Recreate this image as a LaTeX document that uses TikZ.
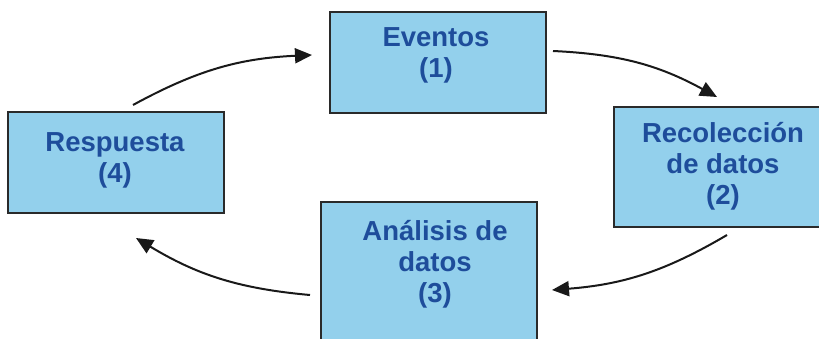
\documentclass[tikz,border=0pt]{standalone}
\usepackage{fontspec}
\setmainfont{Liberation Sans}
\usetikzlibrary{arrows.meta}
\definecolor{boxfill}{HTML}{93D0EC}
\definecolor{boxtext}{HTML}{1E4D9B}
\definecolor{boxline}{HTML}{2A2A2A}
\tikzset{
  stage/.style={draw=boxline, line width=1.4pt, fill=boxfill, rectangle,
    minimum width=216pt, inner sep=0pt},
  stagetext/.style={text=boxtext, align=center, inner sep=0pt,
    font=\fontsize{27.5}{31}\selectfont\bfseries},
  cycle/.style={line width=2pt, draw=black!90,
    -{Triangle[length=17pt,width=15pt]}, bend left=13}
}
\begin{document}
\begin{tikzpicture}[x=1pt,y=1pt]
\useasboundingbox (0,0) rectangle (819,338);
\clip (0,0) rectangle (819,338);

% the four stages of the cycle
\node[stage, minimum height=101pt] (ev) at (438,275.5) {};
\node[stage, minimum width=218pt, minimum height=120pt] (rd) at (723,171) {};
\node[stage, minimum height=158pt] (ad) at (429,57) {};
\node[stage, minimum height=101pt] (rp) at (116,175.5) {};

\node[stagetext] (evt) at (436,283) {Eventos\\(1)};
\node[stagetext] (rdt) at (723,172) {Recolección\\de datos\\(2)};
\node[stagetext] (adt) at (435,74) {Análisis de\\datos\\(3)};
\node[stagetext] (rpt) at (115,178) {Respuesta\\(4)};

% free ends of the connecting arrows
\coordinate (a1) at (133,233);
\coordinate (a2) at (312,283);
\coordinate (b1) at (553,287);
\coordinate (b2) at (717,241);
\coordinate (c1) at (727,103);
\coordinate (c2) at (552,48);
\coordinate (d1) at (310,43);
\coordinate (d2) at (136,100);

\draw[cycle] (a1) to (a2);
\draw[cycle] (b1) to (b2);
\draw[cycle] (c1) to (c2);
\draw[cycle] (d1) to (d2);
\end{tikzpicture}
\end{document}
